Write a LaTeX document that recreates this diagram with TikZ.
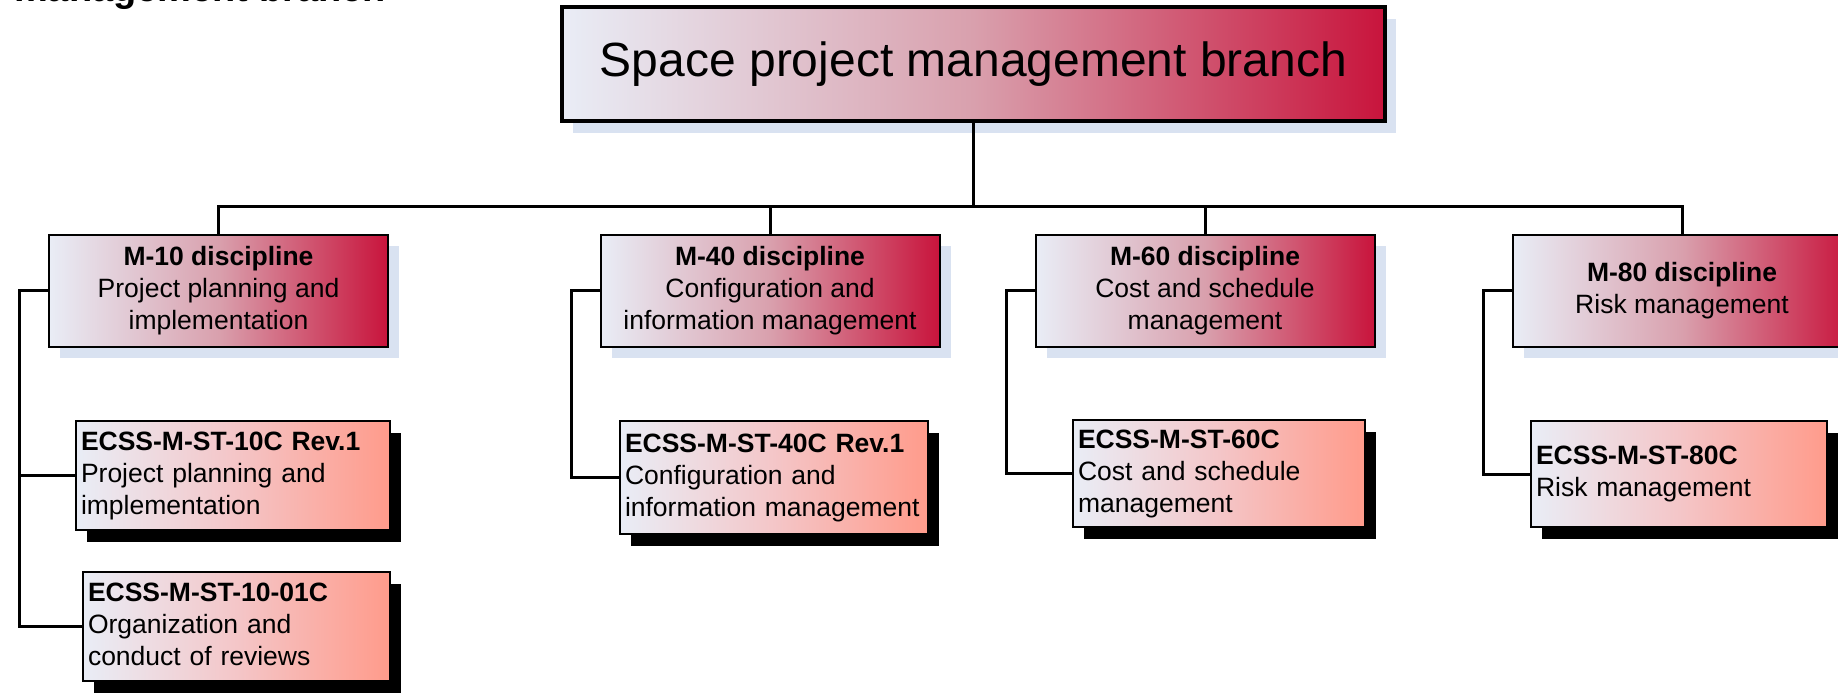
\documentclass[tikz,border=0pt]{standalone}
\usepackage{fontspec}
\setmainfont{Liberation Sans}
\usetikzlibrary{shadows}
\definecolor{lightL}{HTML}{E9EDF6}
\definecolor{crim}{HTML}{C8143C}
\definecolor{crimmid}{HTML}{D9A0AD}
\definecolor{salm}{HTML}{FF9B8B}
\definecolor{salmmid}{HTML}{F4C6C8}
\definecolor{shblue}{HTML}{D9E2F1}
\begin{document}
\begin{tikzpicture}[x=1pt,y=-1pt,
  txt/.style={font=\fontsize{26.5}{32}\selectfont},
  topbox/.style={draw, line width=4pt, left color=lightL, right color=crim, middle color=crimmid,
    drop shadow={shadow xshift=11pt, shadow yshift=-12pt, fill=shblue, opacity=1},
    font=\fontsize{48}{58}\selectfont, inner sep=0pt},
  disc/.style={draw, line width=2pt, left color=lightL, right color=crim, middle color=crimmid,
    drop shadow={shadow xshift=11pt, shadow yshift=-11pt, fill=shblue, opacity=1},
    txt, align=center, inner sep=0pt},
  ecss/.style={draw, line width=2pt, left color=lightL, right color=salm, middle color=salmmid,
    drop shadow={shadow xshift=11pt, shadow yshift=-12pt, fill=black, opacity=1},
    txt, align=left, inner xsep=5pt, inner ysep=0pt},
  conn/.style={line width=3pt}
]
\useasboundingbox (0,0) rectangle (1838,694);

\node[anchor=base west, inner sep=0pt, font=\bfseries\fontsize{38}{40}\selectfont] (ttl) at (14,1) {management branch};

\node[topbox, minimum width=823pt, minimum height=114pt] (top) at (973.5,64) {Space project management branch};

\node[disc, minimum width=339pt, minimum height=112pt] (m10) at (218.5,290.5) {\textbf{M-10 discipline}\\Project planning and\\implementation};
\node[disc, minimum width=339pt, minimum height=112pt] (m40) at (770,290.5) {\textbf{M-40 discipline}\\Configuration and\\information management};
\node[disc, minimum width=339pt, minimum height=112pt] (m60) at (1205,290.5) {\textbf{M-60 discipline}\\Cost and schedule\\management};
\node[disc, minimum width=339pt, minimum height=112pt] (m80) at (1682,290.5) {\textbf{M-80 discipline}\\Risk management};

\node[ecss, text width=304pt, minimum height=109pt] (e10) at (233,475.5) {\textbf{ECSS-M-ST-10C Rev.1}\\Project planning and\\implementation};
\node[ecss, text width=297pt, minimum height=109pt] (e1001) at (236.5,626.5) {\textbf{ECSS-M-ST-10-01C}\\Organization and\\conduct of reviews\vphantom{p}};
\node[ecss, text width=298pt, minimum height=113pt] (e40) at (774,477.5) {\textbf{ECSS-M-ST-40C Rev.1}\\Configuration and\\information management};
\node[ecss, text width=282pt, minimum height=107pt] (e60) at (1219,473.5) {\textbf{ECSS-M-ST-60C}\\Cost and schedule\\management};
\node[ecss, text width=286pt, minimum height=106pt] (e80) at (1679,474) {\textbf{ECSS-M-ST-80C}\\Risk management};

\coordinate (bus) at (973.5,206);
\draw[conn] (top.south) -- (top.south |- bus);
\draw[conn] (m10.north) |- (bus) -| (m80.north);
\draw[conn] (m40.north) -- (m40.north |- bus);
\draw[conn] (m60.north) -- (m60.north |- bus);

\coordinate (s10) at (19,0);
\coordinate (s40) at (571,0);
\coordinate (s60) at (1006,0);
\coordinate (s80) at (1483,0);
\draw[conn] (m10.west) -- (m10.west -| s10) |- (e1001.west);
\draw[conn] (e10.west) -- (e10.west -| s10);
\draw[conn] (m40.west) -- (m40.west -| s40) |- (e40.west);
\draw[conn] (m60.west) -- (m60.west -| s60) |- (e60.west);
\draw[conn] (m80.west) -- (m80.west -| s80) |- (e80.west);
\end{tikzpicture}
\end{document}
